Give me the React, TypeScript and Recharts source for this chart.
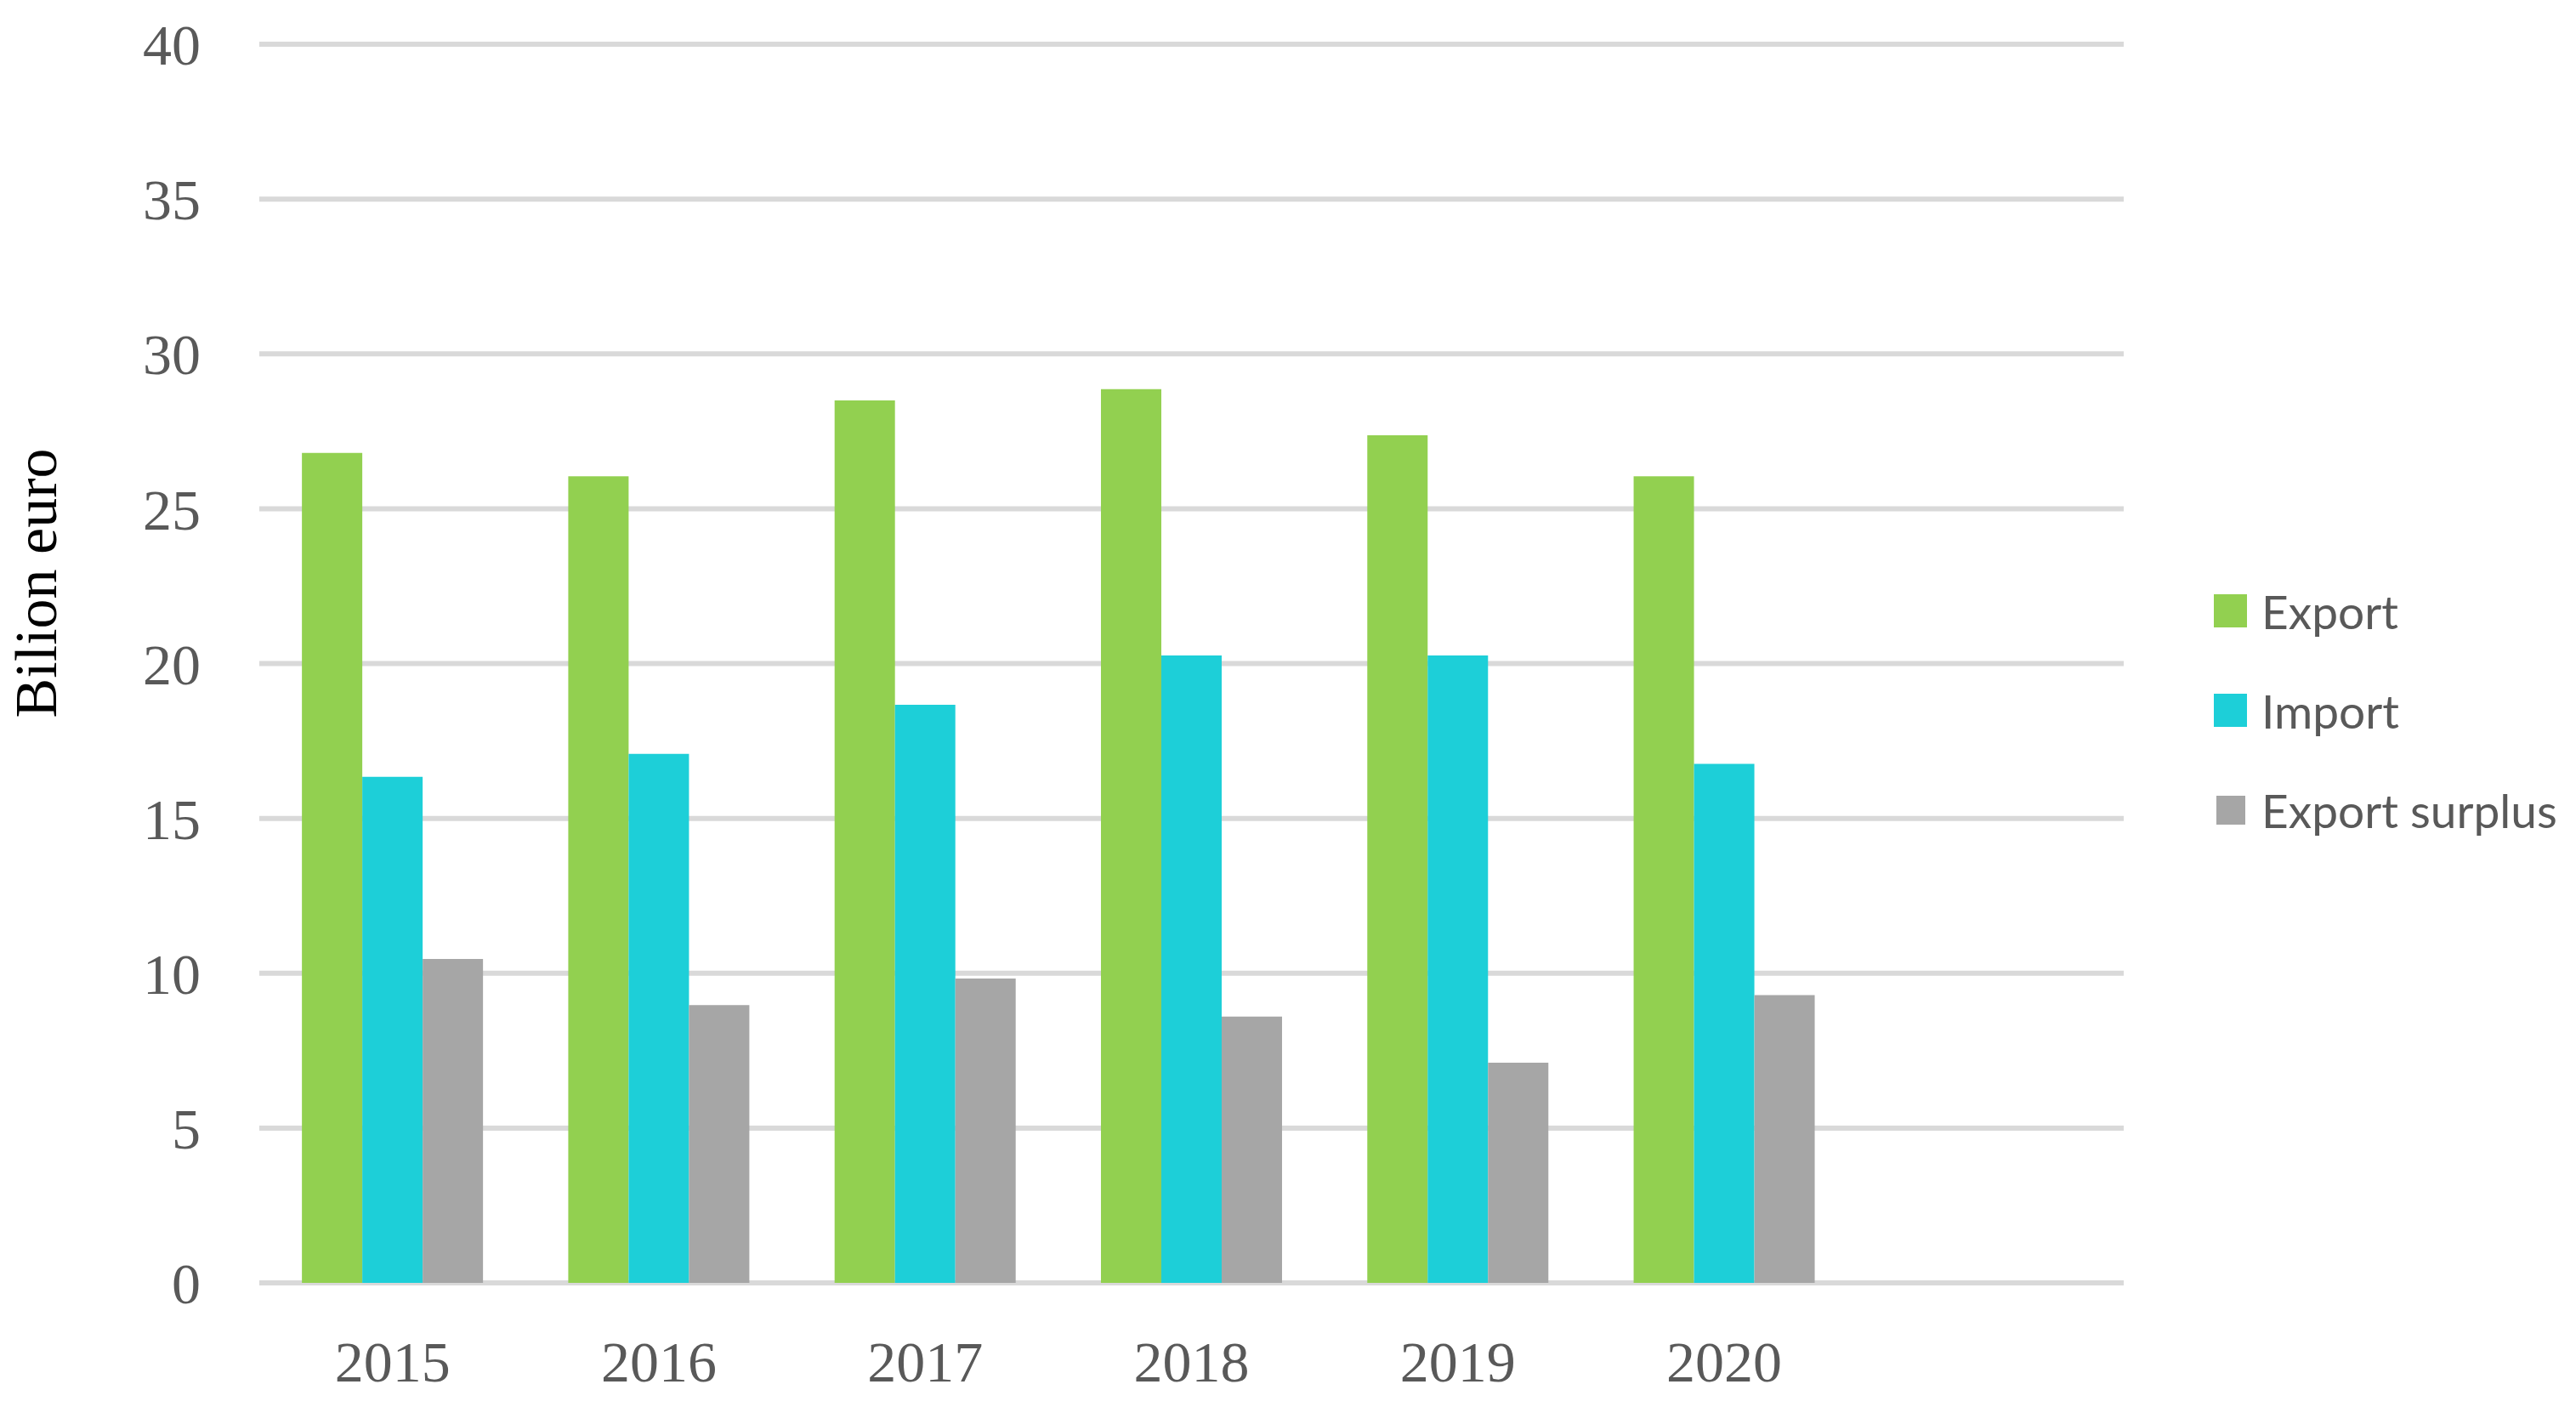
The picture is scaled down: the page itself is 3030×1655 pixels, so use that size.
import React from "react";
import { BarChart, Bar, XAxis, YAxis, CartesianGrid, Legend } from "recharts";

const years = ["2015", "2016", "2017", "2018", "2019", "2020", ""];
const exportValues = [26.8, 26.05, 28.5, 28.86, 27.37, 26.05, null];
const importValues = [16.34, 17.08, 18.67, 20.26, 20.26, 16.76, null];
const surplusValues = [10.46, 8.97, 9.83, 8.6, 7.11, 9.29, null];
const yTicks = [0, 5, 10, 15, 20, 25, 30, 35, 40];

const series = [
  { key: "export", name: "Export", color: "#92D050", size: 39 },
  { key: "import", name: "Import", color: "#1DCFD8", size: 39 },
  { key: "surplus", name: "Export surplus", color: "#A6A6A6", size: 34 }
];

const data = years.map((year, i) => ({
  year,
  export: exportValues[i],
  import: importValues[i],
  surplus: surplusValues[i]
}));

const textColor = "#595959";
const serif = "'Liberation Serif', 'DejaVu Serif', serif";

function LegendBox() {
  return (
    <div style={{ fontFamily: "Lato, 'Open Sans', sans-serif", fontSize: 55, color: textColor }}>
      {series.map((s) => (
        <div key={s.key} style={{ display: "flex", alignItems: "center", height: 117 }}>
          <div style={{ width: 39, display: "flex", justifyContent: "center" }}>
            <div style={{ width: s.size, height: s.size, background: s.color }} />
          </div>
          <span style={{ marginLeft: 17 }}>{s.name}</span>
        </div>
      ))}
    </div>
  );
}

function AxisTitle() {
  return (
    <text
      x={42}
      y={686}
      transform="rotate(-90 42 686)"
      textAnchor="middle"
      dominantBaseline="central"
      fill="#000"
      style={{ fontFamily: serif, fontSize: 70 }}
    >
      Bilion euro
    </text>
  );
}

export default function App() {
  return (
    <div style={{ width: 3030, height: 1655, background: "#fff" }}>
      <style>{`body{margin:0;background:#fff}`}</style>
      <BarChart
        width={3030}
        height={1655}
        data={data}
        margin={{ top: 52, right: 532, bottom: 0, left: 0 }}
        barCategoryGap="16%"
        barGap={0}
      >
        <CartesianGrid vertical={false} stroke="#D9D9D9" strokeWidth={6} />
        <XAxis
          dataKey="year"
          axisLine={false}
          tickLine={false}
          tickSize={0}
          tickMargin={68}
          height={146}
          tick={{ fill: textColor, fontSize: 68, fontFamily: serif }}
          interval={0}
        />
        <YAxis
          domain={[0, 40]}
          ticks={yTicks}
          axisLine={false}
          tickLine={false}
          tickSize={0}
          tickMargin={69}
          width={305}
          tick={{ fill: textColor, fontSize: 68, fontFamily: serif }}
          label={{ content: () => <AxisTitle /> }}
        />
        <Legend
          layout="horizontal"
          align="center"
          verticalAlign="middle"
          content={() => <LegendBox />}
          wrapperStyle={{ position: "absolute", left: 2604, top: 660, width: 420 }}
        />
        {series.map((s) => (
          <Bar key={s.key} dataKey={s.key} name={s.name} fill={s.color} isAnimationActive={false} />
        ))}
      </BarChart>
    </div>
  );
}
